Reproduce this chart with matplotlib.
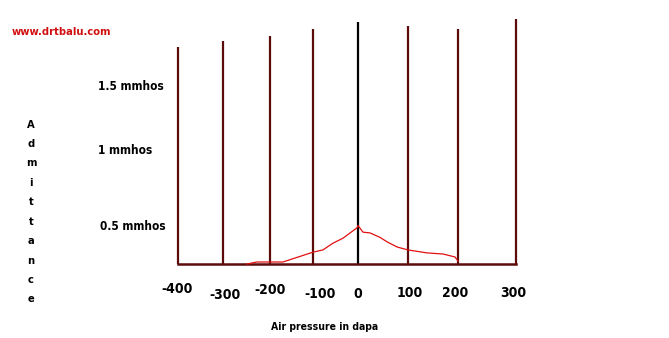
import numpy as np
import matplotlib
matplotlib.use("Agg")
import matplotlib.pyplot as plt
from matplotlib.transforms import blended_transform_factory

# data
pressures = [-400, -300, -200, -100, 0, 100, 200, 300]
line_tops = [1.81, 1.86, 1.90, 1.95, 2.01, 1.98, 1.95, 2.03]
tick_labels = ["-400", "-300", "-200", "-100", "0", "100", "200", "300"]
y_levels = [1.5, 1.0, 0.5]
y_labels = ["1.5 mmhos", "1 mmhos", "0.5 mmhos"]

curve_p = [-249, -228, -200, -170, -100, -78, -56, -33, -2, 0, 10, 24, 44, 58, 78, 100, 138, 170, 194, 200]
curve_a = [0.0, 0.027, 0.027, 0.027, 0.16, 0.19, 0.28, 0.35, 0.49, 0.51, 0.43, 0.42, 0.36, 0.30,
           0.23, 0.19, 0.15, 0.135, 0.095, 0.04]

# hand drawn grid is uneven -> warped scales (pixel anchors of the sketch)
W, H = 669, 338
x_anchor = [178, 223, 270, 313, 358, 408, 458, 516]
a_levels = [0, 0.5, 1.0, 1.5]
y_anchor = [74, 111, 187, 251]


def warp(v, src, dst):
    v = np.asarray(v, dtype=float)
    out = np.interp(v, src, dst)
    lo = (dst[1] - dst[0]) / (src[1] - src[0])
    hi = (dst[-1] - dst[-2]) / (src[-1] - src[-2])
    out = np.where(v < src[0], dst[0] + (v - src[0]) * lo, out)
    out = np.where(v > src[-1], dst[-1] + (v - src[-1]) * hi, out)
    return out


fx = lambda v: warp(v, pressures, x_anchor)
ix = lambda v: warp(v, x_anchor, pressures)
fy = lambda v: warp(v, a_levels, y_anchor)
iy = lambda v: warp(v, y_anchor, a_levels)

plt.rcParams['font.family'] = ['DejaVu Sans']
txt = dict(fontweight='bold', fontstretch='condensed')

fig = plt.figure(figsize=(W / 100, H / 100), dpi=100)
ax = fig.add_axes([0, 0, 1, 1])
ax.set_xscale('function', functions=(fx, ix))
ax.set_yscale('function', functions=(fy, iy))
ax.set_xlim(float(ix(0)), float(ix(W)))
ax.set_ylim(float(iy(0)), float(iy(H)))
ax.axis('off')

maroon = '#5c0b0b'
for p, top in zip(pressures, line_tops):
    ax.plot([p, p], [0, top], color='black' if p == 0 else maroon, lw=1.6, solid_capstyle='butt')
ax.plot([pressures[0], pressures[-1]], [0, 0], color=maroon, lw=1.8)

ax.plot(curve_p, curve_a, color='#e01010', lw=0.9)

lab_dx = [-1, 2, 0, 7, 0, 2, -3, -3]
lab_y = [-0.34, -0.42, -0.35, -0.41, -0.41, -0.39, -0.39, -0.39]
for p, t, dx, yy in zip(pressures, tick_labels, lab_dx, lab_y):
    ax.annotate(t, (p, yy), xytext=(dx * 0.72, 0), textcoords='offset points',
                ha='center', va='center', fontsize=10, **txt)

bt = blended_transform_factory(ax.transAxes, ax.transData)
for lv, t, xp in zip(y_levels, y_labels, [98, 98, 100]):
    ax.text(xp / W, lv, t, transform=bt, ha='left', va='center', fontsize=8.5, **txt)

ax.text(31 / W, 1 - 212 / H, "\n".join("Admittance"), transform=ax.transAxes,
        ha='center', va='center', fontsize=8, linespacing=2.18, **txt)
ax.text(12 / W, 1 - 32 / H, "www.drtbalu.com", transform=ax.transAxes,
        ha='left', va='center', fontsize=8, color='#d01010', **txt)
ax.text(325 / W, 1 - 327 / H, "Air pressure in dapa", transform=ax.transAxes,
        ha='center', va='center', fontsize=7.5, **txt)

fig.savefig('out.png', dpi=100)
